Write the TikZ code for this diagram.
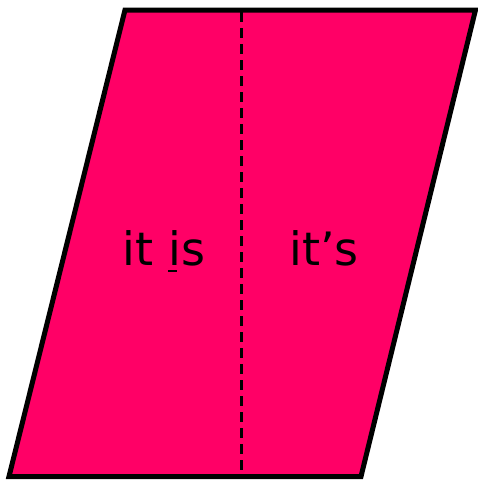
\documentclass[tikz,border=0pt]{standalone}
\usepackage{fontspec}
\setmainfont{DejaVu Sans}
\definecolor{hotpink}{HTML}{FF0066}
\newcommand{\ulchar}[1]{\makebox[0pt][l]{\rule[-7pt]{9pt}{2.5pt}}#1}
\tikzset{
  frame/.style={draw=black,line width=5pt,fill=hotpink,line join=miter},
  divider/.style={draw=black,line width=3pt,dash pattern=on 10pt off 6pt},
  word/.style={font=\fontsize{46}{55}\selectfont,text=black,inner sep=0pt,anchor=base}
}
\begin{document}
\begin{tikzpicture}[x=1pt,y=-1pt]
\useasboundingbox (0,0) rectangle (478,480);
\coordinate (tl) at (125,10);
\coordinate (tr) at (475.5,10);
\coordinate (br) at (361,476.5);
\coordinate (bl) at (9,476.5);
\draw[frame] (tl) -- (tr) -- (br) -- (bl) -- cycle;
\coordinate (dtop) at (241,12);
\coordinate (dbot) at (241,475);
\draw[divider] (dtop) -- (dbot);
\node[word] (left) at (164,265) {it \ulchar{i}s};
\node[word] (right) at (324,265) {it’s};
\end{tikzpicture}
\end{document}
